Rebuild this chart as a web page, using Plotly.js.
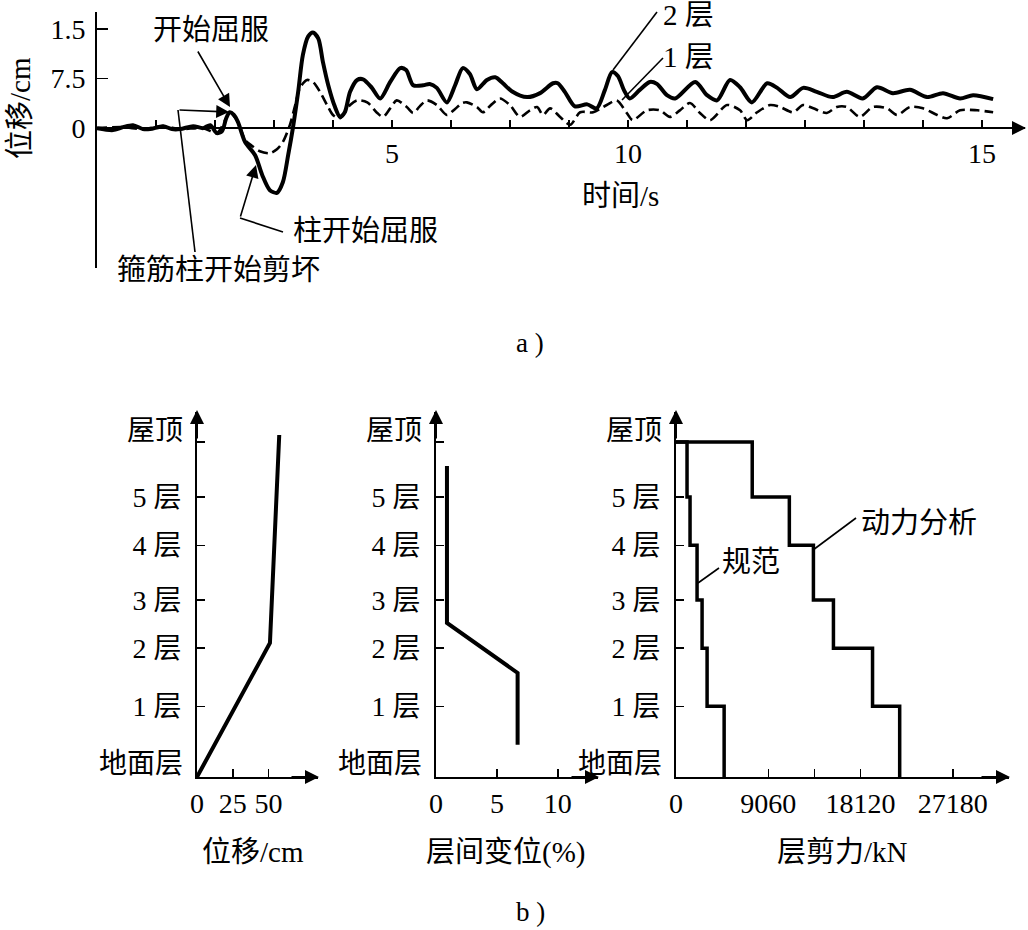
<!DOCTYPE html>
<html><head><meta charset="utf-8">
<script src="https://cdn.plot.ly/plotly-3.0.1.min.js"></script>
<style>html,body{margin:0;padding:0;background:#fff}#chart{width:1028px;height:930px}</style>
</head><body><div id="chart"></div>
<script>
// ---- (a) time history ----
const timeStorey2 = [0,0.27,0.44,0.61,0.78,0.9,1.12,1.27,1.41,1.63,1.8,1.92,2.03,2.12,2.19,2.25,2.32,2.39,2.51,2.68,2.8,2.93,3.05,3.15,3.24,3.32,3.41,3.49,3.58,3.66,3.75,3.83,3.92,4.03,4.12,4.2,4.29,4.41,4.51,4.66,4.8,4.97,5.14,5.24,5.36,5.53,5.64,5.76,5.93,6.07,6.2,6.32,6.44,6.61,6.75,6.88,7.03,7.29,7.51,7.73,7.81,7.93,8.1,8.31,8.47,8.61,8.73,8.83,8.93,9.03,9.2,9.37,9.49,9.66,9.8,10.14,10.34,10.51,10.73,10.9,11.1,11.36,11.53,11.75,11.97,12.2,12.47,12.71,12.98,13.22,13.49,13.78,14.07,14.34,14.63,14.85,15.19];
const dispStorey2 = [0,-0.3,0.15,0.45,-0.15,-0.15,0.3,-0.15,-0.15,0.3,0,0.45,-0.75,-0.45,1.5,2.4,2.0,0.9,-2.1,-4.1,-7.1,-9.4,-9.8,-8.2,-4.1,0,5.5,11.1,13.9,14.5,13.6,10.0,6.5,3.3,1.7,2.4,5.5,7.3,7.4,6.1,4.5,7.0,9.1,8.8,6.5,6.5,6.7,6.1,3.9,6.5,9.1,8.2,5.9,7.3,7.7,6.8,5.6,4.7,5.3,6.8,6.8,5.5,3.3,3.6,3.0,5.8,8.5,7.9,5.8,4.5,5.8,7.0,6.7,5.0,4.5,7.0,5.0,4.2,7.3,6.2,3.9,6.8,6.1,4.7,6.1,5.5,4.7,5.5,4.5,6.2,5.3,5.8,4.7,5.3,4.5,5.0,4.4];
const timeStorey1 = [0,0.44,0.78,1.12,1.41,1.8,2.03,2.19,2.25,2.39,2.51,2.63,2.76,2.93,3.05,3.15,3.27,3.36,3.44,3.56,3.66,3.78,3.9,4.0,4.12,4.29,4.41,4.58,4.75,4.85,4.97,5.08,5.25,5.36,5.47,5.59,5.76,5.93,6.07,6.19,6.27,6.44,6.54,6.69,6.83,7.0,7.17,7.34,7.46,7.56,7.68,7.85,8.02,8.19,8.41,8.64,8.81,8.98,9.08,9.32,9.54,9.71,9.88,10.05,10.22,10.39,10.68,10.9,11.02,11.19,11.41,11.58,11.8,11.97,12.14,12.37,12.54,12.71,12.93,13.15,13.39,13.56,13.78,14.0,14.24,14.41,14.63,14.92,15.19];
const dispStorey1 = [0,0.15,-0.15,0.3,-0.15,0,-0.75,1.5,2.4,0.9,-1.8,-2.7,-3.5,-3.8,-3.2,-2.1,0.5,3.5,6.1,7.3,7.0,5.5,3.5,2.0,1.5,3.5,4.2,3.9,2.3,1.7,3.0,4.2,3.2,2.3,3.3,4.2,3.5,2.0,2.9,3.8,3.9,3.2,2.4,3.6,4.5,3.5,1.7,2.7,3.2,2.0,3.0,1.7,0.5,2.4,2.4,3.5,4.2,2.3,1.2,2.7,2.7,1.7,2.7,3.8,2.3,1.2,3.5,2.7,1.2,2.4,3.5,3.2,2.4,3.5,3.0,2.3,3.2,3.2,1.7,3.2,3.0,2.0,3.2,3.0,2.0,1.5,2.7,2.7,2.4];
const timeTickVals = [1,2,3,4,5,6,7,8,9,10,11,12,13,14,15];
const timeTickText = ['','','','','5','','','','10','','','','','','15'];
const dispTickVals = [0, 7.5, 15];
const dispTickText = ['0', '7.5', '1.5'];

// ---- (b) storey profiles ----
const floorNames = ['地面层','1 层','2 层','3 层','4 层','5 层','屋顶'];
const floorLevels = [0, 1.23, 2.24, 3.08, 4.03, 4.87, 5.83];
const profileDispX = [0, 51, 57.5];
const profileDispY = [0, 2.33, 5.95];
const profileDispTicks = [0, 25, 50];
const driftX = [0.9, 0.9, 6.7, 6.7];
const driftY = [5.41, 2.68, 1.81, 0.56];
const driftTicks = [0, 5, 10];
const shearDynamic = [21965, 19300, 15460, 13494, 11130, 7486]; // storey 1 .. top storey
const shearCode = [4727, 3053, 2561, 2068, 1379, 1083];
const shearTickVals = [0, 9060, 13590, 18120, 27180];
const shearTickText = ['0', '9060', '', '18120', '27180'];

function stepProfile(v){
  const xs=[0], ys=[floorLevels[floorLevels.length-1]];
  for(let i=v.length-1;i>=0;i--){ xs.push(v[i]); ys.push(floorLevels[i+1]); xs.push(v[i]); ys.push(floorLevels[i]); }
  return {xs, ys};
}
const dyn = stepProfile(shearDynamic), code = stepProfile(shearCode);

const FONT = '"Liberation Serif", "Noto Sans CJK SC", serif';
const W = 1028, H = 930;
const P = x => x / W, Q = y => 1 - y / H;

const traces = [
  {x: timeStorey1, y: dispStorey1, xaxis:'x', yaxis:'y', mode:'lines', line:{color:'#000', width:2.6, dash:'10px,5px', shape:'spline', smoothing:0.8}},
  {x: timeStorey2, y: dispStorey2, xaxis:'x', yaxis:'y', mode:'lines', line:{color:'#000', width:4, shape:'spline', smoothing:0.8}},
  {x: profileDispX, y: profileDispY, xaxis:'x2', yaxis:'y2', mode:'lines', line:{color:'#000', width:4}},
  {x: driftX, y: driftY, xaxis:'x3', yaxis:'y3', mode:'lines', line:{color:'#000', width:4}},
  {x: dyn.xs, y: dyn.ys, xaxis:'x4', yaxis:'y4', mode:'lines', line:{color:'#000', width:3.5}},
  {x: code.xs, y: code.ys, xaxis:'x4', yaxis:'y4', mode:'lines', line:{color:'#000', width:3.5}}
];

const tickFont = {family: FONT, size: 28, color:'#000'};
const floorFont = {family: FONT, size: 28, color:'#000'};
const baseAx = {showgrid:false, zeroline:false, showline:true, linecolor:'#000', linewidth:2, ticks:'inside', tickcolor:'#000', tickwidth:1.5, ticklen:8, fixedrange:true};
const floorTickText = floorNames.map((n,i) => (i===0 || i===floorNames.length-1) ? '' : n);
const bottomY = (xa) => Object.assign({}, baseAx, {domain:[Q(777), Q(412)], range:[0, 6.35], anchor:xa, tickmode:'array', tickvals:floorLevels, ticktext:floorTickText, tickfont:floorFont, ticklabelstandoff:8});

const layout = {
  width: W, height: H, margin:{l:0,r:0,t:0,b:0}, showlegend:false,
  paper_bgcolor:'#fff', plot_bgcolor:'rgba(0,0,0,0)',
  font:{family: FONT, color:'#000'},
  xaxis: Object.assign({}, baseAx, {domain:[P(97), P(1025)], range:[0, 15.73], anchor:'free', position:Q(128), tickmode:'array', tickvals:timeTickVals, ticktext:timeTickText, tickfont:tickFont, ticklen:7}),
  yaxis: Object.assign({}, baseAx, {domain:[Q(268), Q(12)], range:[-21.2, 17.6], anchor:'x', tickmode:'array', tickvals:dispTickVals, ticktext:dispTickText, tickfont:tickFont, ticklen:11, ticklabelstandoff:4}),
  xaxis2: Object.assign({}, baseAx, {domain:[P(197), P(318)], range:[0, 84.6], anchor:'y2', tickmode:'array', tickvals:profileDispTicks, tickfont:tickFont}),
  yaxis2: bottomY('x2'),
  xaxis3: Object.assign({}, baseAx, {domain:[P(436), P(598)], range:[0, 13.3], anchor:'y3', tickmode:'array', tickvals:driftTicks, tickfont:tickFont}),
  yaxis3: bottomY('x3'),
  xaxis4: Object.assign({}, baseAx, {domain:[P(676), P(1009)], range:[0, 32700], anchor:'y4', tickmode:'array', tickvals:shearTickVals, ticktext:shearTickText, tickfont:tickFont}),
  yaxis4: bottomY('x4'),
  annotations: [], shapes: []
};

function txt(t, x, y, extra){ return Object.assign({text:t, x:P(x), y:Q(y), xref:'paper', yref:'paper', showarrow:false, xanchor:'center', yanchor:'middle', font:{family:FONT, size:29, color:'#000'}}, extra||{}); }
function arrow(tipX, tipY, tailX, tailY, w, s){ return {text:'', x:P(tipX), y:Q(tipY), xref:'paper', yref:'paper', ax:tailX-tipX, ay:tailY-tipY, axref:'pixel', ayref:'pixel', showarrow:true, arrowhead:2, arrowsize:s||1.6, arrowwidth:w||1.6, arrowcolor:'#000'}; }
function seg(x0,y0,x1,y1,w){ return {type:'line', xref:'paper', yref:'paper', x0:P(x0), y0:Q(y0), x1:P(x1), y1:Q(y1), line:{color:'#000', width:w||1.6}}; }

const A = layout.annotations, S = layout.shapes;
// panel a texts
A.push(txt('位移/cm', 20, 108, {textangle:-90}));
A.push(txt('时间/s', 620, 196));
A.push(txt('开始屈服', 211, 30));
A.push(arrow(230, 107, 197, 50));
A.push(txt('箍筋柱开始剪坏', 218, 270));
S.push(seg(195, 252, 178, 110));
A.push(arrow(229, 112, 178, 110));
A.push(txt('柱开始屈服', 365, 231));
S.push(seg(283, 232, 240, 218));
A.push(arrow(256, 165, 240, 218));
A.push(txt('2 层', 688, 15));
S.push(seg(613, 70, 657, 12));
A.push(txt('1 层', 688, 57));
S.push(seg(622, 100, 663, 58));
A.push(txt('a )', 530, 343, {font:{family:FONT, size:27, color:'#000'}}));
// axis arrows
A.push(arrow(1026, 128, 990, 128, 2, 1.4));
A.push(arrow(319, 777, 290, 777, 2, 1.4));
A.push(arrow(599, 777, 570, 777, 2, 1.4));
A.push(arrow(1010, 777, 980, 777, 2, 1.4));
A.push(arrow(197, 410, 197, 440, 2, 1.4));
A.push(arrow(436, 410, 436, 440, 2, 1.4));
A.push(arrow(676, 410, 676, 440, 2, 1.4));
// panel b floor end labels
[['y2',185],['y3',424],['y4',664]].forEach(([ya, xr]) => {
  A.push({text:floorNames[floorNames.length-1], xref:'paper', yref:ya, x:P(xr), y:floorLevels[floorLevels.length-1], yshift:11, xanchor:'right', yanchor:'middle', showarrow:false, font:floorFont});
  A.push({text:floorNames[0], xref:'paper', yref:ya, x:P(xr), y:floorLevels[0], yshift:14, xanchor:'right', yanchor:'middle', showarrow:false, font:floorFont});
});
A.push(txt('位移/cm', 253, 852));
A.push(txt('层间变位(%)', 505, 852));
A.push(txt('层剪力/kN', 842, 852));
A.push(txt('规范', 751, 562));
S.push(seg(698, 583, 719, 568));
A.push(txt('动力分析', 919, 523));
S.push(seg(813, 550, 856, 518));
A.push(txt('b )', 530, 912, {font:{family:FONT, size:27, color:'#000'}}));

Plotly.newPlot('chart', traces, layout, {staticPlot:true, displayModeBar:false});
</script>
</body></html>
